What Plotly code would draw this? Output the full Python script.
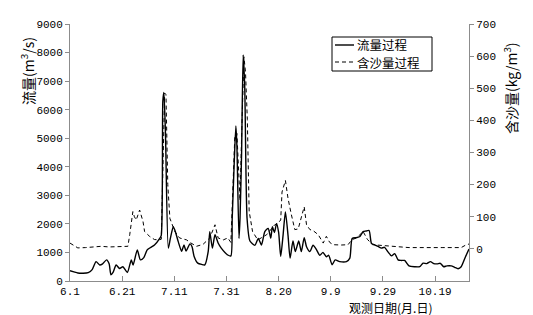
import plotly.graph_objects as go

# day offset from 6.1
flow_day = [0, 1.5, 3, 5, 7, 8.5, 10, 11.4, 12.5, 14, 15, 15.7, 16.5, 17.7, 19, 20.3, 22, 23.5, 24.2,
            25.8, 27, 28.3, 29.6, 31, 32.4, 34.4, 35.0, 35.6, 36.0, 36.6, 37.7, 38.5, 39.6, 40.5, 41.5,
            42.8, 43.7, 44.5, 46, 46.8, 47.6, 49, 50.5, 51.7, 53, 53.6, 54.6, 55.6, 56.8, 58, 60.5, 61.7,
            62.2, 63.0, 63.6, 64.0, 64.8, 65.2, 65.8, 66.4, 67.0, 67.9, 69, 70.9, 72.2, 73.4, 74.7, 76,
            77, 77.6, 78.4, 79.2, 80.0, 80.8, 81.7, 82.6, 83.6, 84.4, 85.5, 86.4, 87.7, 88.7, 89.8, 90.7,
            92, 93.2, 94.5, 95.8, 97, 98.3, 99.2, 100.5, 101.7, 103.4, 106, 107.3, 108.2, 109.9, 111.2,
            112.4, 113.5, 114.7, 115.6, 117, 118.3, 119.4, 120.6, 122, 123.3, 124.5, 125.8, 127, 128.3,
            130, 132.2, 134.1, 135.4, 136.8, 138.2, 139.5, 140.8, 142, 143.3, 144.5, 146.2, 147.5, 148.8,
            150, 151.7, 153]
flow_val = [360, 320, 280, 270, 290, 400, 680, 560, 600, 740, 600, 220, 300, 560, 440, 500, 300, 740, 560,
            1090, 740, 820, 1090, 1180, 1260, 1490, 1600, 6300, 6600, 5200, 1150, 1500, 1900, 1700, 1380,
            1040, 1260, 1050, 1300, 1200, 860, 625, 580, 565, 1040, 1730, 1150, 1620, 1330, 1150, 910, 880,
            2190, 4200, 5430, 4740, 1490, 2200, 4500, 7920, 6800, 2190, 1400, 1250, 1490, 1260, 1730, 1840,
            1500, 1900, 1700, 2010, 1700, 860, 1600, 2420, 1600, 800, 1400, 1030, 1400, 1030, 1520, 1200,
            1030, 1250, 1100, 900, 1000, 850, 900, 570, 740, 680, 680, 800, 1490, 1520, 1560,
            1730, 1750, 1770, 1320, 1260, 1200, 1150, 1180, 1010, 880, 960, 740, 720, 720,
            530, 500, 500, 625, 610, 680, 610, 600, 620, 500, 530, 530, 480, 430,
            500, 860, 1120]

sed_day = [0, 2, 3, 6, 9, 12, 15, 18, 20, 22.2, 22.9, 24.1, 24.7, 25.4, 26.7, 28, 28.6, 30.5, 32.4, 34,
           35.0, 35.6, 36.3, 36.8, 37.5, 38.3, 40.2, 42, 44.7, 46, 48.5, 51, 53.6, 55.6, 56.8, 58.8, 60.5,
           61.7, 62.6, 63.2, 64, 64.6, 65.2, 65.8, 66.7, 67.3, 68, 68.7, 70, 72, 75.4, 78.5, 79.8, 80.8,
           81.3, 82.6, 83.6, 84.9, 86.2, 87.5, 88.8, 89.8, 90.7, 92, 93.2, 95.2, 97.1, 98.3, 99.6, 100.9,
           104, 106.6, 108.2, 109.9, 112.4, 114, 116, 123.3, 130, 143, 150, 152, 153]
sed_val = [18, 8, 3, 4, 6, 8, 6, 6, 8, 8, 44, 116, 100, 90, 121, 85, 54, 39, 29, 28,
           30, 300, 485, 480, 200, 95, 54, 34, 28, 20, 8, 14, 34, 75, 34, 28, 34,
           20, 200, 352, 360, 250, 150, 350, 598, 550, 403, 117, 54, 28, 44, 75, 80, 90,
           177, 213, 157, 106, 60, 62, 106, 131, 75, 60, 57, 44, 18, 39, 20, 13,
           12, 13, 29, 34, 54, 30, 13, 8, 4, 4, 4, 13, 15]

x_tickvals = [0, 20, 40, 60, 80, 100, 120, 140]
x_ticktext = ["6.1", "6.21", "7.11", "7.31", "8.20", "9.9", "9.29", "10.19"]
y1_ticks = [0, 1000, 2000, 3000, 4000, 5000, 6000, 7000, 8000, 9000]
y2_ticks = [0, 100, 200, 300, 400, 500, 600, 700]

num_font = dict(family="Liberation Mono", size=11, color="black")
cjk = "Noto Sans CJK SC"
axcol = "#8c8c8c"

fig = go.Figure()
fig.add_trace(go.Scatter(x=flow_day, y=flow_val, mode="lines", name="流量过程",
                         line=dict(color="black", width=1.4, shape="spline", smoothing=0.6), yaxis="y"))
fig.add_trace(go.Scatter(x=sed_day, y=sed_val, mode="lines", name="含沙量过程",
                         line=dict(color="black", width=1, dash="4px,3px"), yaxis="y2"))

L, R, T, B = 70, 64, 24, 34
W, H = 533, 315
pw, ph = W - L - R, H - T - B

def px(xp):
    return (xp - L) / pw

def py(yp):
    return (H - B - yp) / ph

shapes = [
    dict(type="rect", xref="paper", yref="paper", x0=px(332), x1=px(432), y0=py(71), y1=py(37),
         line=dict(color="black", width=1), fillcolor="white", layer="above"),
    dict(type="line", xref="paper", yref="paper", x0=px(335), x1=px(354), y0=py(45), y1=py(45),
         line=dict(color="black", width=1.4)),
    dict(type="line", xref="paper", yref="paper", x0=px(335), x1=px(354), y0=py(62), y1=py(62),
         line=dict(color="black", width=1, dash="4px,3px")),
]
annotations = [
    dict(text="流量过程", xref="paper", yref="paper", x=px(356), y=py(44.5), xanchor="left", yanchor="middle",
         showarrow=False, borderpad=0, font=dict(family=cjk, size=12.5, color="black")),
    dict(text="含沙量过程", xref="paper", yref="paper", x=px(356), y=py(62), xanchor="left", yanchor="middle",
         showarrow=False, borderpad=0, font=dict(family=cjk, size=12.5, color="black")),
    dict(text="流量(m<sup>3</sup>/s)", xref="paper", yref="paper", x=px(27), y=py(71), xanchor="center",
         yanchor="middle", textangle=-90, showarrow=False, font=dict(family=cjk, size=14, color="black")),
    dict(text="含沙量(kg/m<sup>3</sup>)", xref="paper", yref="paper", x=px(510), y=py(88), xanchor="center",
         yanchor="middle", textangle=-90, showarrow=False, font=dict(family=cjk, size=14, color="black")),
    dict(text="观测日期(月.日)", xref="paper", yref="paper", x=px(390), y=py(307), xanchor="center",
         yanchor="middle", showarrow=False, borderpad=0, font=dict(family=cjk, size=12, color="black")),
]

fig.update_layout(
    width=W, height=H, margin=dict(l=L, r=R, t=T, b=B),
    paper_bgcolor="white", plot_bgcolor="white", showlegend=False,
    xaxis=dict(range=[0, 153], tickvals=x_tickvals, ticktext=x_ticktext, ticks="inside", ticklen=5,
               tickcolor=axcol, showline=True, linecolor=axcol, linewidth=1, showgrid=False,
               zeroline=False, tickfont=num_font),
    yaxis=dict(range=[0, 9000], tickvals=y1_ticks, ticks="outside", ticklen=4, tickcolor=axcol,
               showline=True, linecolor=axcol, linewidth=1, showgrid=False, zeroline=False,
               tickfont=num_font),
    yaxis2=dict(range=[-100, 700], tickvals=y2_ticks, ticks="outside", ticklen=4, tickcolor=axcol,
                showline=True, linecolor=axcol, linewidth=1, showgrid=False, zeroline=False,
                overlaying="y", side="right", tickfont=num_font),
    shapes=shapes, annotations=annotations,
)
fig.write_html("out.html")
